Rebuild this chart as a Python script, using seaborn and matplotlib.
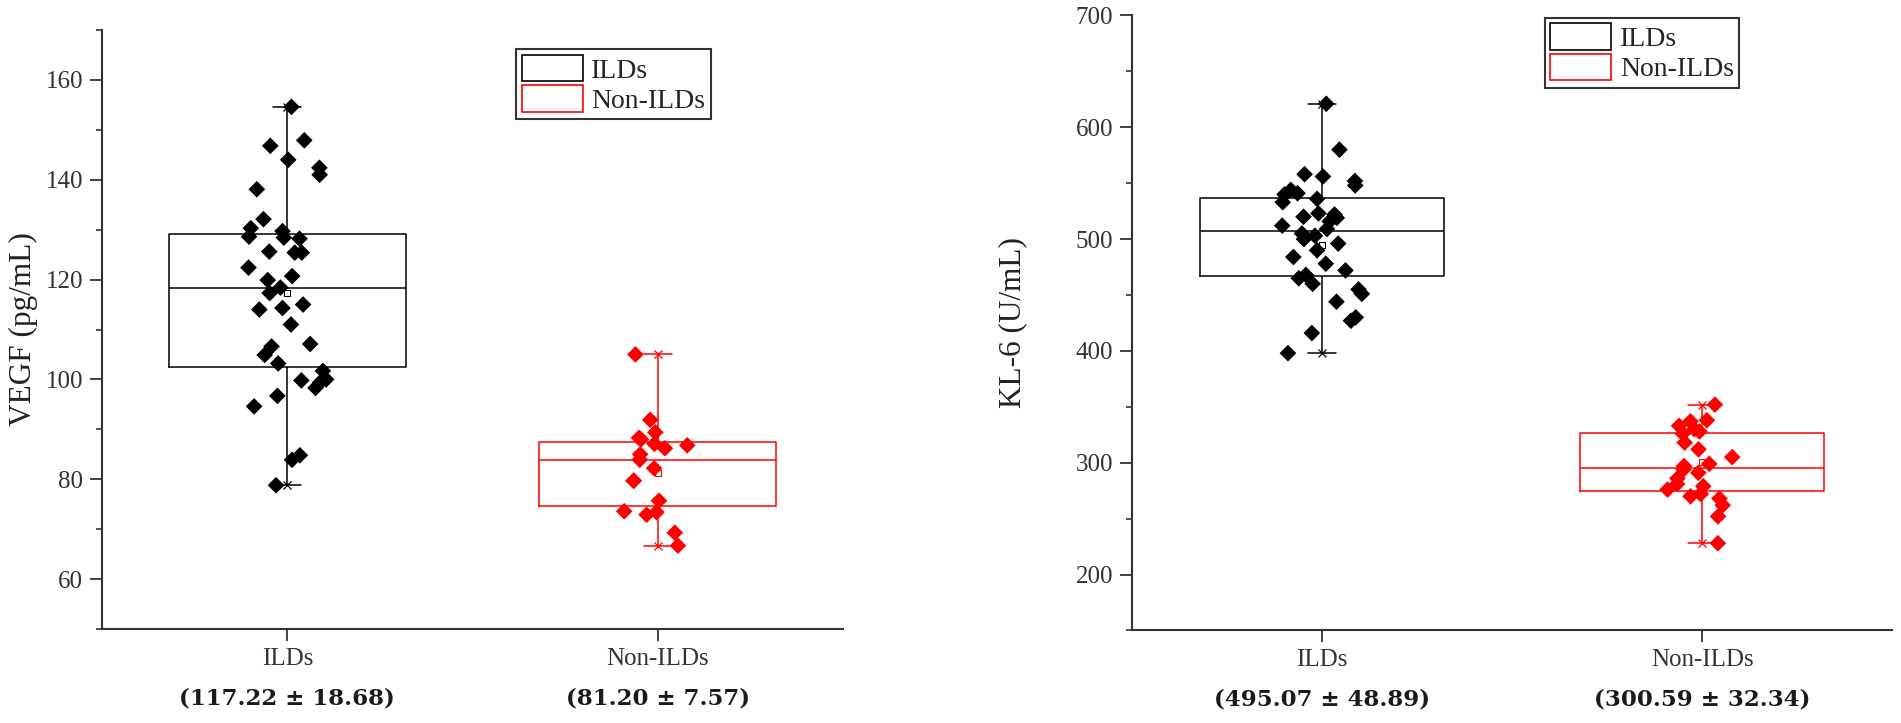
import numpy as np
import pandas as pd
import matplotlib
matplotlib.use("Agg")
import matplotlib.pyplot as plt
from matplotlib.patches import Patch
from matplotlib.ticker import MultipleLocator
import seaborn as sns

# ------------------------------
# data
# ------------------------------
groups = ["ILDs", "Non-ILDs"]
colors = ["#000000", "#ff0000"]

vegf_ilds = [154.6, 147.9, 146.8, 144.0, 142.4, 141.0, 138.1, 132.1, 130.3, 129.7,
             128.6, 128.4, 128.2, 125.6, 125.4, 125.4, 122.4, 120.7, 119.9, 118.4,
             117.3, 115.0, 114.3, 114.0, 111.0, 107.1, 106.6, 104.9, 103.2, 101.7,
             100.0, 99.8, 99.4, 98.3, 96.7, 94.6, 84.8, 83.9, 78.8]
vegf_non = [105.0, 91.9, 89.4, 88.3, 88.0, 87.1, 86.8, 86.2, 85.0, 83.9,
            82.2, 79.7, 79.7, 75.7, 73.6, 73.4, 72.9, 69.3, 66.7]
vegf_means = [117.22, 81.20]
vegf_stats = ["(117.22 ± 18.68)", "(81.20 ± 7.57)"]

kl6_ilds = [621, 580, 558, 556, 552, 548, 544, 541, 540, 536, 533, 523, 522, 520,
            519, 516, 512, 509, 505, 503, 500, 496, 490, 484, 478, 472, 468, 465,
            460, 455, 451, 444, 430, 427, 416, 398]
kl6_non = [352, 338, 337, 333, 330, 328, 326, 318, 312, 305, 299, 297, 294, 291,
           286, 281, 279, 276, 272, 270, 268, 262, 252, 228]
kl6_means = [495.07, 300.59]
kl6_stats = ["(495.07 ± 48.89)", "(300.59 ± 32.34)"]

sns.set_style("ticks")
plt.rcParams["font.family"] = ["Liberation Serif", "DejaVu Serif"]
axis_grey = "#333333"


def draw_panel(ax, a, b, means, stats, ylabel, ylim, yticks, minor, leg_anchor, label_x):
    df = pd.DataFrame({"group": [groups[0]] * len(a) + [groups[1]] * len(b),
                       "value": list(a) + list(b)})

    sns.boxplot(data=df, x="group", y="value", hue="group", palette=colors,
                fill=False, whis=(0, 100), width=0.64, showcaps=False,
                showfliers=False, linewidth=1.1, legend=False, ax=ax)

    # whisker caps with x end markers and mean square (Origin style)
    for i, vals in enumerate([a, b]):
        c = colors[i]
        for v in (min(vals), max(vals)):
            ax.plot([i - 0.038, i + 0.038], [v, v], color=c, lw=1.1, zorder=2.5)
            ax.plot([i], [v], ls="none", marker="x", ms=6, mew=0.9, color=c, zorder=2.5)
        ax.plot([i], [means[i]], ls="none", marker="s", ms=4.5, mfc="white",
                mec=c, mew=0.8, zorder=2.6)

    np.random.seed(3)
    sns.stripplot(data=df, x="group", y="value", hue="group", palette=colors,
                  marker="D", size=8.5, jitter=0.11, linewidth=0, legend=False,
                  zorder=3, ax=ax)

    ax.set_xlim(-0.5, 1.5)
    ax.set_ylim(*ylim)
    ax.set_yticks(yticks)
    ax.yaxis.set_minor_locator(MultipleLocator(minor))
    ax.set_xlabel("")
    ax.set_ylabel(ylabel, fontsize=22.5, color="#222222")
    ax.yaxis.set_label_coords(label_x, 0.5)

    sns.despine(ax=ax)
    for side in ["left", "bottom"]:
        ax.spines[side].set_linewidth(1.5)
        ax.spines[side].set_color(axis_grey)
    ax.tick_params(axis="both", which="major", length=8.5, width=1.3,
                   color=axis_grey, labelsize=18, labelcolor=axis_grey, pad=5)
    ax.tick_params(axis="y", which="minor", length=4, width=1.2, color=axis_grey)

    for i, s in enumerate(stats):
        ax.annotate(s, xy=(i, 0), xycoords=ax.get_xaxis_transform(),
                    xytext=(0, -69), textcoords="offset pixels", ha="center",
                    va="center", fontsize=16.5, fontweight="bold",
                    family="DejaVu Serif", color="#1a1a1a")

    handles = [Patch(facecolor="white", edgecolor=c, linewidth=1.2) for c in colors]
    leg = ax.legend(handles, groups, loc="upper left", bbox_to_anchor=leg_anchor,
                    frameon=True, fancybox=False, edgecolor=axis_grey, framealpha=1,
                    fontsize=20, handlelength=2.2, handleheight=1.1,
                    handletextpad=0.3, labelspacing=0.05, borderpad=0.2,
                    borderaxespad=0)
    leg.get_frame().set_linewidth(1.5)


fig = plt.figure(figsize=(19.01, 7.23), dpi=100)
ax1 = fig.add_axes([0.0537, 0.130, 0.3898, 0.8285])
ax2 = fig.add_axes([0.5955, 0.128, 0.3998, 0.8506])

draw_panel(ax1, vegf_ilds, vegf_non, vegf_means, vegf_stats, "VEGF (pg/mL)",
           (50, 170), list(range(60, 161, 20)), 10, (0.559, 0.968), -0.087)
draw_panel(ax2, kl6_ilds, kl6_non, kl6_means, kl6_stats, "KL-6 (U/mL)",
           (150, 700), list(range(200, 701, 100)), 50, (0.543, 0.996), -0.138)

fig.savefig("out.png", dpi=100)
